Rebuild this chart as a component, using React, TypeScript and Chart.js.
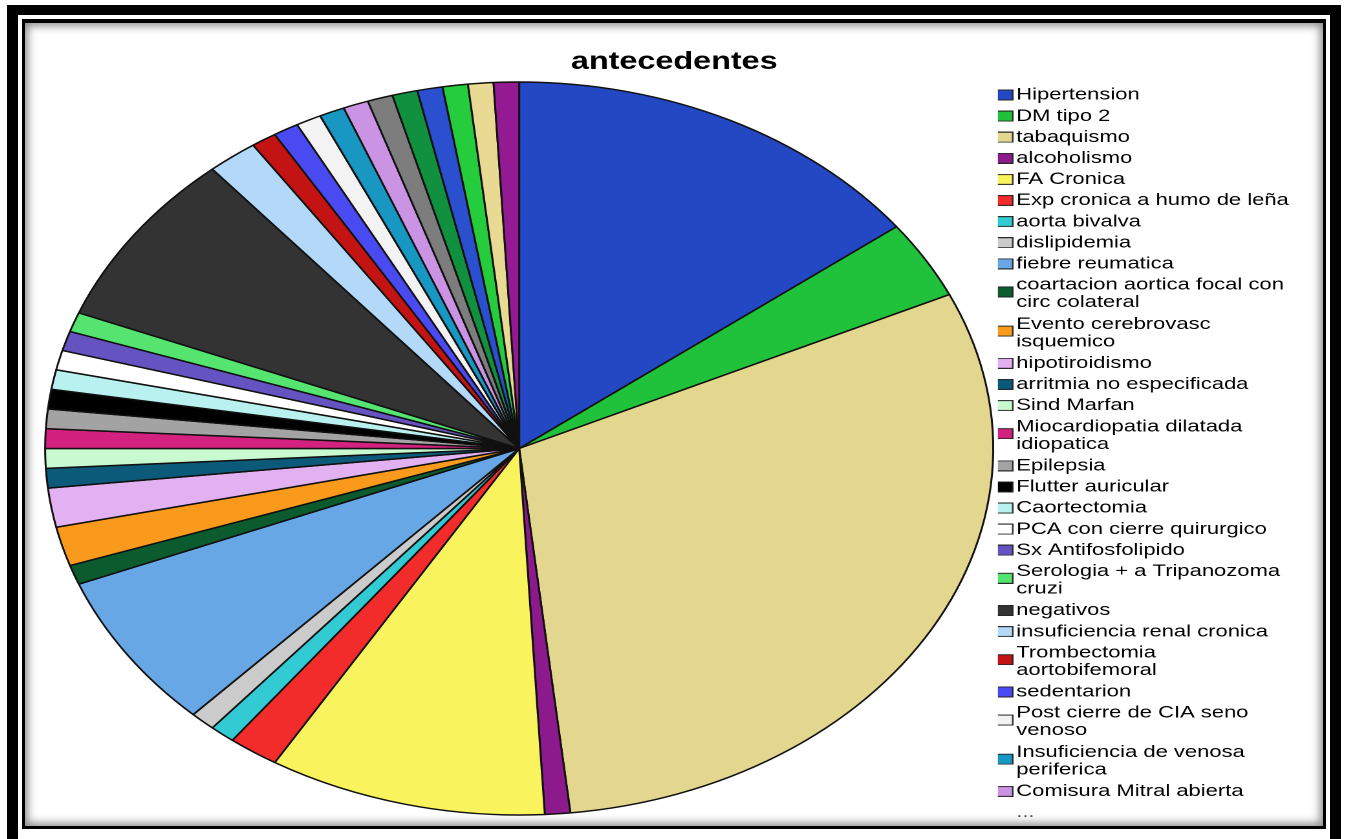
import React, { useEffect, useRef } from 'react';
import { Chart, registerables } from 'chart.js';

Chart.register(...registerables);

const chartTitle = 'antecedentes';

const categories = [
  'Hipertension', 'DM tipo 2', 'tabaquismo', 'alcoholismo', 'FA Cronica',
  'Exp cronica a humo de leña', 'aorta bivalva', 'dislipidemia', 'fiebre reumatica',
  'coartacion aortica focal con circ colateral', 'Evento cerebrovasc isquemico',
  'hipotiroidismo', 'arritmia no especificada', 'Sind Marfan',
  'Miocardiopatia dilatada idiopatica', 'Epilepsia', 'Flutter auricular', 'Caortectomia',
  'PCA con cierre quirurgico', 'Sx Antifosfolipido', 'Serologia + a Tripanozoma cruzi',
  'negativos', 'insuficiencia renal cronica', 'Trombectomia aortobifemoral', 'sedentarion',
  'Post cierre de CIA seno venoso', 'Insuficiencia de venosa periferica',
  'Comisura Mitral abierta', 'otros 1', 'otros 2', 'otros 3', 'otros 4', 'otros 5', 'otros 6',
];

const values = [
  17, 4, 35, 1, 11, 2, 1, 1, 8, 1, 2, 2, 1, 1, 1, 1, 1, 1, 1, 1, 1, 9, 2, 1, 1, 1, 1, 1,
  1, 1, 1, 1, 1, 1,
];

const colors = [
  '#2447c4', '#21c23b', '#e3d78f', '#8c1a8c', '#f9f35e', '#f22b2b', '#33cbd3', '#cbcbcb',
  '#67a7e6', '#0b5b2f', '#f99a1c', '#e2b1f2', '#0b5a7a', '#c9f9d1', '#d3217f', '#a3a3a3',
  '#000000', '#b9f1f1', '#ffffff', '#6553c2', '#55e46f', '#333333', '#b4d8f7', '#c31313',
  '#4a4af2', '#f3f3f3', '#1997c3', '#cb93e3', '#7d7d7d', '#11913f', '#2a4fcf', '#25cd3c',
  '#e8da92', '#941a94',
];

const legendLines: (string | string[])[] = [
  'Hipertension', 'DM tipo 2', 'tabaquismo', 'alcoholismo', 'FA Cronica',
  'Exp cronica a humo de leña', 'aorta bivalva', 'dislipidemia', 'fiebre reumatica',
  ['coartacion aortica focal con', 'circ colateral'], ['Evento cerebrovasc', 'isquemico'],
  'hipotiroidismo', 'arritmia no especificada', 'Sind Marfan',
  ['Miocardiopatia dilatada', 'idiopatica'], 'Epilepsia', 'Flutter auricular', 'Caortectomia',
  'PCA con cierre quirurgico', 'Sx Antifosfolipido', ['Serologia + a Tripanozoma', 'cruzi'],
  'negativos', 'insuficiencia renal cronica', ['Trombectomia', 'aortobifemoral'], 'sedentarion',
  ['Post cierre de CIA seno', 'venoso'], ['Insuficiencia de venosa', 'periferica'],
  'Comisura Mitral abierta',
];

const legendMore = '...';

const STRETCH = 1.293;
const W = 1002;
const H = 811;
const FONT = "'Liberation Sans', Arial, sans-serif";

function makeBox(color: string | null, twoLines: boolean): HTMLCanvasElement {
  const c = document.createElement('canvas');
  const shift = twoLines ? 14 : 0;
  c.width = 14;
  c.height = 11 + shift;
  const ctx = c.getContext('2d');
  if (ctx && color) {
    ctx.fillStyle = color;
    ctx.fillRect(0.5, shift + 0.5, 13, 10);
    ctx.strokeStyle = '#262626';
    ctx.lineWidth = 1;
    ctx.strokeRect(0.5, shift + 0.5, 13, 10);
  }
  return c;
}

export default function App() {
  const ref = useRef<HTMLCanvasElement>(null);

  useEffect(() => {
    const canvas = ref.current;
    if (!canvas) return;
    const items: any[] = legendLines.map((t, i) => ({
      text: t,
      fillStyle: colors[i],
      strokeStyle: '#262626',
      lineWidth: 1,
      hidden: false,
      index: i,
      fontColor: '#000000',
      pointStyle: makeBox(colors[i], Array.isArray(t)),
    }));
    items.push({
      text: legendMore + '\u00A0'.repeat(60),
      fillStyle: 'rgba(0,0,0,0)',
      strokeStyle: 'rgba(0,0,0,0)',
      lineWidth: 0,
      hidden: false,
      index: legendLines.length,
      fontColor: '#555555',
      pointStyle: makeBox(null, false),
    });

    const chart = new Chart(canvas, {
      type: 'pie',
      data: {
        labels: categories,
        datasets: [
          {
            data: values,
            backgroundColor: colors,
            borderColor: '#111111',
            borderWidth: 1.5,
            radius: 366.5,
          } as any,
        ],
      },
      options: {
        responsive: false,
        animation: false,
        devicePixelRatio: 2,
        layout: { padding: { left: 11.2, right: 10.8, top: 0, bottom: 0 } },
        plugins: {
          title: {
            display: true,
            text: chartTitle,
            color: '#000000',
            font: { family: FONT, size: 25, weight: 'bold', lineHeight: 0.08 },
            padding: { top: 38, bottom: 0 },
          },
          legend: {
            position: 'right',
            align: 'start',
            maxWidth: 239.8,
            title: {
              display: true,
              text: '',
              font: { family: FONT, size: 12, lineHeight: 1.2 },
              padding: { top: 45, bottom: 0 },
            },
            labels: {
              usePointStyle: true,
              pointStyleWidth: 1.6,
              padding: 4.1,
              color: '#000000',
              font: { family: FONT, size: 17, lineHeight: 1.0324 },
              generateLabels: () => items,
            },
          },
          tooltip: { enabled: false },
        },
      } as any,
    });
    return () => chart.destroy();
  }, []);

  return (
    <div>
      <div
        style={{
          position: 'fixed', left: 0, top: 0, width: 1346, height: 839,
          background: '#ffffff', overflow: 'hidden',
        }}
      >
        <div
          style={{
            position: 'absolute', left: 22, top: 19, width: 1304, height: 810,
            boxSizing: 'border-box', border: '3px solid #000', borderTopWidth: 4,
            boxShadow: 'inset 0 0 9px 3px rgba(0,0,0,0.45)',
          }}
        />
        <div
          style={{
            position: 'absolute', left: 26, top: 23, width: 1296, height: 803,
            overflow: 'hidden',
          }}
        >
          <canvas
            ref={ref}
            width={W}
            height={H}
            style={{ display: 'block', width: `${W * STRETCH}px`, height: `${H}px` }}
          />
        </div>
        <div
          style={{
            position: 'absolute', left: 7, top: 5, width: 1334, height: 845,
            boxSizing: 'border-box', border: '11px solid #000', borderTopWidth: 10,
          }}
        />
        <div
          style={{
            position: 'absolute', left: 22, top: 19, width: 1304, height: 810,
            boxSizing: 'border-box', border: '3px solid #000', borderTopWidth: 4,
          }}
        />
      </div>
    </div>
  );
}
